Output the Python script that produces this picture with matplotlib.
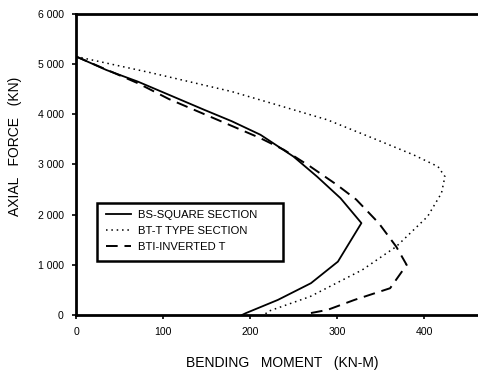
import matplotlib
matplotlib.use("Agg")
import matplotlib.pyplot as plt
from matplotlib.patches import Rectangle

plt.rcParams['font.family'] = ['Liberation Sans', 'DejaVu Sans']

# BS-Square section (solid)
bs_m = [0, 35, 71, 107, 147, 179, 212, 250, 277, 304, 328, 301, 270, 232, 195, 191]
bs_n = [5150, 4880, 4650, 4385, 4090, 3860, 3590, 3155, 2757, 2326, 1830, 1062, 632, 299, 34, 0]

# BT-T type section (dotted)
bt_m = [0, 85, 179, 231, 289, 346, 388, 416, 424, 420, 404, 368, 329, 269, 220, 217]
bt_n = [5150, 4830, 4451, 4186, 3887, 3488, 3189, 2956, 2757, 2426, 1960, 1361, 897, 365, 66, 0]

# BTI-Inverted T (dashed)
bti_m = [0, 71, 107, 179, 212, 239, 269, 300, 322, 348, 368, 380, 361, 320, 289, 269, 266]
bti_n = [5150, 4618, 4300, 3767, 3522, 3290, 2960, 2590, 2300, 1828, 1361, 997, 532, 299, 100, 34, 0]

labels = ['BS-SQUARE SECTION', 'BT-T TYPE SECTION', 'BTI-INVERTED T']
xticks = [0, 100, 200, 300, 400]
yticks = [0, 1000, 2000, 3000, 4000, 5000, 6000]
ytick_labels = ["0", "1 000", "2 000", "3 000", "4 000", "5 000", "6 000"]

fig = plt.figure(figsize=(4.78, 3.74), dpi=100)
ax = fig.add_axes([0.159, 0.158, 0.841, 0.805])

ax.plot(bs_m, bs_n, color='black', lw=1.3, ls='-', label=labels[0])
ax.plot(bt_m, bt_n, color='black', lw=1.1, ls=(0, (1, 2.5)), label=labels[1])
ax.plot(bti_m, bti_n, color='black', lw=1.4, ls=(0, (6, 3.5)), label=labels[2])

ax.set_xlim(0, 462)
ax.set_ylim(0, 6000)
ax.set_xticks(xticks)
ax.set_xticklabels([str(v) for v in xticks])
ax.set_yticks(yticks)
ax.set_yticklabels(ytick_labels)
ax.tick_params(axis='both', direction='out', length=3, width=1.2, labelsize=7.6, pad=6)

for s in ['left', 'bottom', 'top']:
    ax.spines[s].set_linewidth(2)
ax.spines['right'].set_visible(False)

ax.set_xlabel('BENDING   MOMENT   (KN-M)', fontsize=10)
ax.set_ylabel('AXIAL   FORCE   (KN)', fontsize=10)
ax.xaxis.set_label_coords(0.514, -0.136)
ax.yaxis.set_label_coords(-0.135, 0.561)

leg = ax.legend(loc='center left', bbox_to_anchor=(0.075, 0.279), fontsize=8.1,
                frameon=False, handlelength=2.25, borderpad=0, borderaxespad=0,
                labelspacing=0.5, handletextpad=0.55)
ax.add_patch(Rectangle((0.052, 0.179), 0.464, 0.193, transform=ax.transAxes,
                       fill=False, edgecolor='black', lw=1.8, zorder=5))

fig.savefig('out.png', dpi=100)
